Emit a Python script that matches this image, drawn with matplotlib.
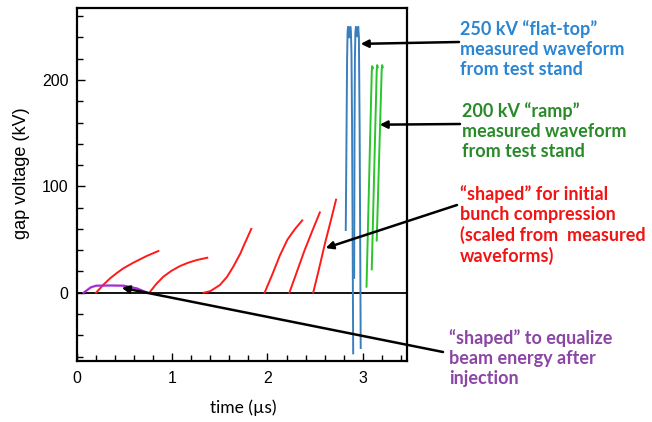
import numpy as np
import matplotlib
matplotlib.use("Agg")
import matplotlib.pyplot as plt
from matplotlib.ticker import MultipleLocator

plt.rcParams["font.family"] = ["Liberation Sans", "DejaVu Sans"]

# red "shaped" waveforms for initial bunch compression (time us, kV)
red_t = [
    [0.20, 0.277, 0.347, 0.418, 0.486, 0.593, 0.662, 0.733, 0.854],
    [0.76, 0.83, 0.906, 0.99, 1.082, 1.17, 1.257, 1.368],
    [1.33, 1.40, 1.50, 1.576, 1.641, 1.716, 1.746, 1.80, 1.83],
    [1.97, 2.05, 2.13, 2.21, 2.29, 2.365],
    [2.23, 2.31, 2.39, 2.47, 2.55],
    [2.48, 2.54, 2.60, 2.66, 2.72],
]
red_v = [
    [0, 7.5, 13.5, 18.5, 22.9, 28.3, 31.4, 34.6, 39.2],
    [0, 8, 15, 20.5, 25.1, 28.3, 30.7, 32.9],
    [0, 1.5, 7.2, 15, 24.5, 37, 43.3, 54, 60],
    [0, 17, 35, 50, 60, 68],
    [0, 20, 40, 58, 75.5],
    [0, 22, 45, 66, 87.5],
]

# purple pulse to equalize beam energy
purple_t = [0.07, 0.144, 0.2, 0.35, 0.49, 0.628, 0.74]
purple_v = [0, 5, 6.6, 6.8, 6.6, 4.1, 0]

# blue 250 kV flat-top measured waveforms
blue_t = [
    [2.822, 2.830, 2.836, 2.841, 2.846, 2.852, 2.858, 2.864, 2.870, 2.876,
     2.882, 2.888, 2.896, 2.900],
    [2.910, 2.914, 2.918, 2.923, 2.929, 2.935, 2.941, 2.947, 2.953, 2.960,
     2.968, 2.979],
]
blue_v = [
    [59, 150, 220, 245, 250, 246, 240, 245, 250, 246, 225, 160, 20, -57],
    [14, 150, 220, 245, 250, 246, 241, 246, 250, 240, 150, -52],
]

# green 200 kV ramp measured waveforms
green_t = [
    [3.04, 3.095, 3.100, 3.106],
    [3.095, 3.147, 3.152, 3.158],
    [3.147, 3.199, 3.204, 3.210],
]
green_v = [
    [5.7, 208, 213, 211],
    [22, 209, 214, 212],
    [49, 209, 214, 212],
]

fig = plt.figure(figsize=(6.52, 4.22), dpi=100)
ax = fig.add_axes([77 / 652, 1 - 361 / 422, 330 / 652, 353 / 422])

ax.axhline(0, color="black", lw=1.3, zorder=1)

for t, v in zip(red_t, red_v):
    ax.plot(t, v, color="#ff1a1a", lw=1.4)
ax.plot(purple_t, purple_v, color="#a52bd6", lw=1.6)
for t, v in zip(blue_t, blue_v):
    ax.plot(t, v, color="#3a7fbd", lw=1.4)
for t, v in zip(green_t, green_v):
    ax.plot(t, v, color="#2bc42b", lw=1.4)

ax.set_xlim(0, 3.465)
ax.set_ylim(-64.2, 267.7)
ax.xaxis.set_major_locator(MultipleLocator(1))
ax.xaxis.set_minor_locator(MultipleLocator(0.2))
ax.yaxis.set_major_locator(MultipleLocator(100))
ax.yaxis.set_minor_locator(MultipleLocator(20))
ax.tick_params(which="both", direction="in", top=False, right=False,
               labelsize=11.5, width=1.0)
ax.tick_params(which="major", length=6)
ax.tick_params(which="minor", length=4)
ax.tick_params(axis="x", pad=7)
ax.tick_params(axis="y", pad=6)
for s in ax.spines.values():
    s.set_linewidth(1.6)

fig.text(22 / 652, 1 - 173 / 422, "gap voltage (kV)", rotation=90,
         ha="center", va="center", fontsize=13)
fig.text(243 / 652, 1 - 408 / 422, "time (µs)", ha="center", va="center",
         fontsize=12.5, family="Lato")

notes = [
    ("250 kV \u201cflat-top\u201d\nmeasured waveform\nfrom test stand", "#2a85d3",
     460, 49, (2.979, 234), (459, 42)),
    ("200 kV \u201cramp\u201d\nmeasured waveform\nfrom test stand", "#2a8a2a",
     462, 131, (3.178, 158), (460, 124)),
    ("\u201cshaped\u201d for initial\nbunch compression\n(scaled from  measured\nwaveforms)",
     "#f21414", 460, 225, (2.61, 42), (457, 205)),
    ("\u201cshaped\u201d to equalize\nbeam energy after\ninjection", "#8a45a5",
     449, 358, (0.47, 4.7), (443, 352)),
]
for text, col, tx, ty, tip, tail in notes:
    fig.text(tx / 652, 1 - ty / 422, text, color=col, fontsize=13,
             fontweight="bold", family="Lato", ha="left", va="center",
             linespacing=1.2)
    ax.annotate("", xy=tip, xycoords="data",
                xytext=(tail[0] / 652, 1 - tail[1] / 422),
                textcoords="figure fraction", annotation_clip=False,
                arrowprops=dict(arrowstyle="-|>", color="black", lw=1.8,
                                mutation_scale=11, shrinkA=0, shrinkB=0))

fig.savefig("out.png", dpi=100)
